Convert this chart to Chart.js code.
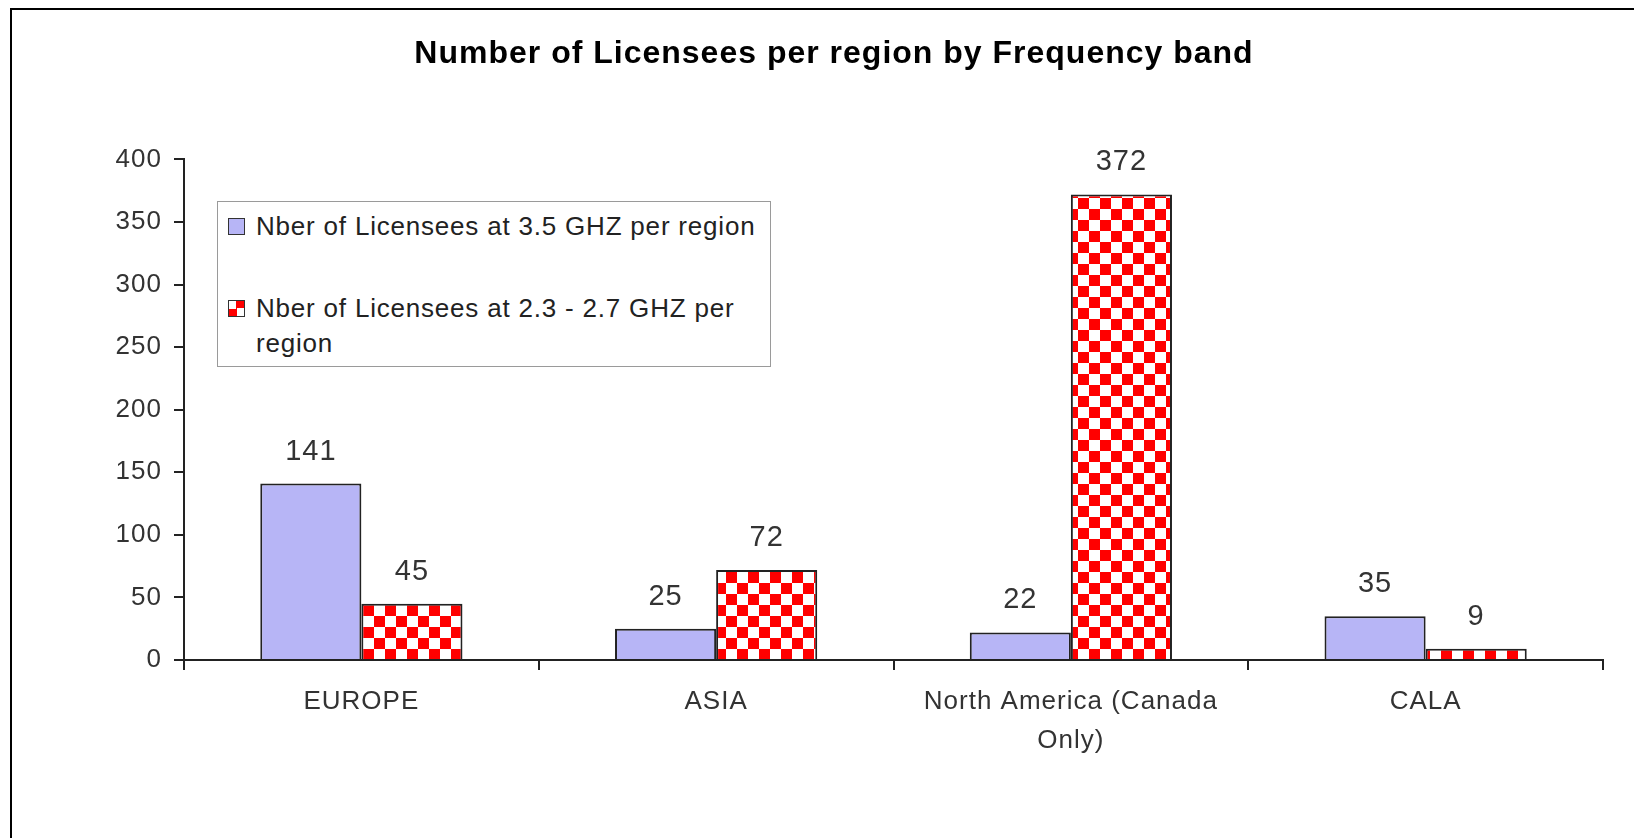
<!DOCTYPE html>
<html lang="en">
<head>
<meta charset="UTF-8">
<title>Number of Licensees per region by Frequency band</title>
<script src="https://cdn.jsdelivr.net/npm/chart.js"></script>
<style>
    html, body { margin: 0; padding: 0; background: #fff; }
    #wrap { position: relative; width: 1634px; height: 838px; overflow: hidden; }
    #frame { position: absolute; left: 10px; top: 8px; right: -5px; bottom: -5px;
             border-top: 2px solid #000; border-left: 2px solid #000; }
    #licChart { position: absolute; left: 0; top: 0; }
    #legend { position: absolute; left: 217px; top: 201px; width: 552px; height: 164px;
              border: 1px solid #9a9a9a; background: #fff; box-sizing: content-box;
              font-family: "Liberation Sans", Arial, sans-serif; font-size: 26px;
              letter-spacing: 0.8px; color: #222; }
    #legend .item { position: absolute; left: 10px; display: flex; align-items: flex-start; }
    #legend .box { width: 15px; height: 15px; border: 1px solid #333; margin-top: 9px; margin-right: 11px; flex: none; }
    #legend .txt { width: 512px; line-height: 35px; }
</style>
</head>
<body>
<div id="wrap">
    <div id="frame"></div>
    <canvas id="licChart" width="1634" height="838"></canvas>
    <div id="legend"></div>
</div>

<script>
    // données
    const categories = ['EUROPE', 'ASIA', ['North America (Canada', 'Only)'], 'CALA'];
    const seriesNames = ['Nber of Licensees at 3.5 GHZ per region', 'Nber of Licensees at 2.3 - 2.7 GHZ per region'];
    const licensees35 = [141, 25, 22, 35];
    const licensees2327 = [45, 72, 372, 9];
    const yMin = 0, yMax = 400, yStep = 50;

    const FONT = '"Liberation Sans", Arial, sans-serif';

    // motif damier rouge / blanc
    function checker() {
        const c = document.createElement('canvas');
        c.width = 22; c.height = 22;
        const g = c.getContext('2d');
        g.fillStyle = '#fff'; g.fillRect(0, 0, 22, 22);
        g.fillStyle = '#ff0000';
        g.fillRect(0, 0, 11, 11);
        g.fillRect(11, 11, 11, 11);
        return g.createPattern(c, 'repeat');
    }

    // texte un peu espacé, comme le rendu de l'original
    const spacing = {
        id: 'spacing',
        beforeDraw(chart) { chart.ctx.letterSpacing = '1px'; }
    };

    // valeurs au-dessus des barres
    const valueLabels = {
        id: 'valueLabels',
        afterDatasetsDraw(chart) {
            const ctx = chart.ctx;
            ctx.save();
            ctx.font = '29px ' + FONT;
            ctx.fillStyle = '#333';
            ctx.textAlign = 'center';
            ctx.textBaseline = 'middle';
            chart.data.datasets.forEach((ds, i) => {
                chart.getDatasetMeta(i).data.forEach((bar, j) => {
                    ctx.fillText(ds.data[j], bar.x, bar.y - 32);
                });
            });
            ctx.restore();
        }
    };

    // légende HTML (le texte passe à la ligne comme dans l'original)
    const htmlLegend = {
        id: 'htmlLegend',
        afterUpdate(chart) {
            const el = document.getElementById('legend');
            el.innerHTML = '';
            const tops = [7, 89];
            chart.data.datasets.forEach((ds, i) => {
                const item = document.createElement('div');
                item.className = 'item';
                item.style.top = tops[i] + 'px';
                const box = document.createElement('span');
                box.className = 'box';
                box.style.background = i === 0 ? ds.backgroundColor
                    : 'repeating-conic-gradient(#ff0000 0 25%, #fff 0 50%) 0 0 / 15px 15px';
                const txt = document.createElement('span');
                txt.className = 'txt';
                txt.textContent = ds.label;
                item.appendChild(box);
                item.appendChild(txt);
                el.appendChild(item);
            });
        }
    };

    const ctx = document.getElementById('licChart').getContext('2d');
    const chart = new Chart(ctx, {
        type: 'bar',
        data: {
            labels: categories,
            datasets: [{
                label: seriesNames[0],
                data: licensees35,
                backgroundColor: '#b7b5f6',
                borderColor: '#222',
                borderWidth: 2
            }, {
                label: seriesNames[1],
                data: licensees2327,
                backgroundColor: checker(),
                borderColor: '#222',
                borderWidth: 2
            }]
        },
        options: {
            responsive: false,
            animation: false,
            devicePixelRatio: 1,
            layout: { padding: { left: 65, right: 31, top: 0, bottom: 58 } },
            datasets: { bar: { categoryPercentage: 0.57, barPercentage: 1 } },
            plugins: {
                legend: { display: false },
                tooltip: { enabled: false },
                title: {
                    display: true,
                    text: 'Number of Licensees per region by Frequency band',
                    color: '#000',
                    font: { family: FONT, size: 32, weight: 'bold' },
                    padding: { top: 35, bottom: 86 }
                }
            },
            scales: {
                x: {
                    grid: { offset: true, drawOnChartArea: false, tickLength: 10, color: '#222', lineWidth: 2 },
                    border: { color: '#222', width: 2 },
                    ticks: { color: '#333', font: { family: FONT, size: 26, lineHeight: 1.5 },
                             padding: 12, maxRotation: 0, autoSkip: false },
                    afterFit(s) { s.height = 120; }
                },
                y: {
                    min: yMin,
                    max: yMax,
                    grid: { drawOnChartArea: false, tickLength: 10, color: '#222', lineWidth: 2 },
                    border: { color: '#222', width: 2 },
                    ticks: { stepSize: yStep, color: '#333', font: { family: FONT, size: 26 }, padding: 12 },
                    afterFit(s) { s.width = 119; }
                }
            }
        },
        plugins: [spacing, valueLabels, htmlLegend]
    });
</script>
</body>
</html>
